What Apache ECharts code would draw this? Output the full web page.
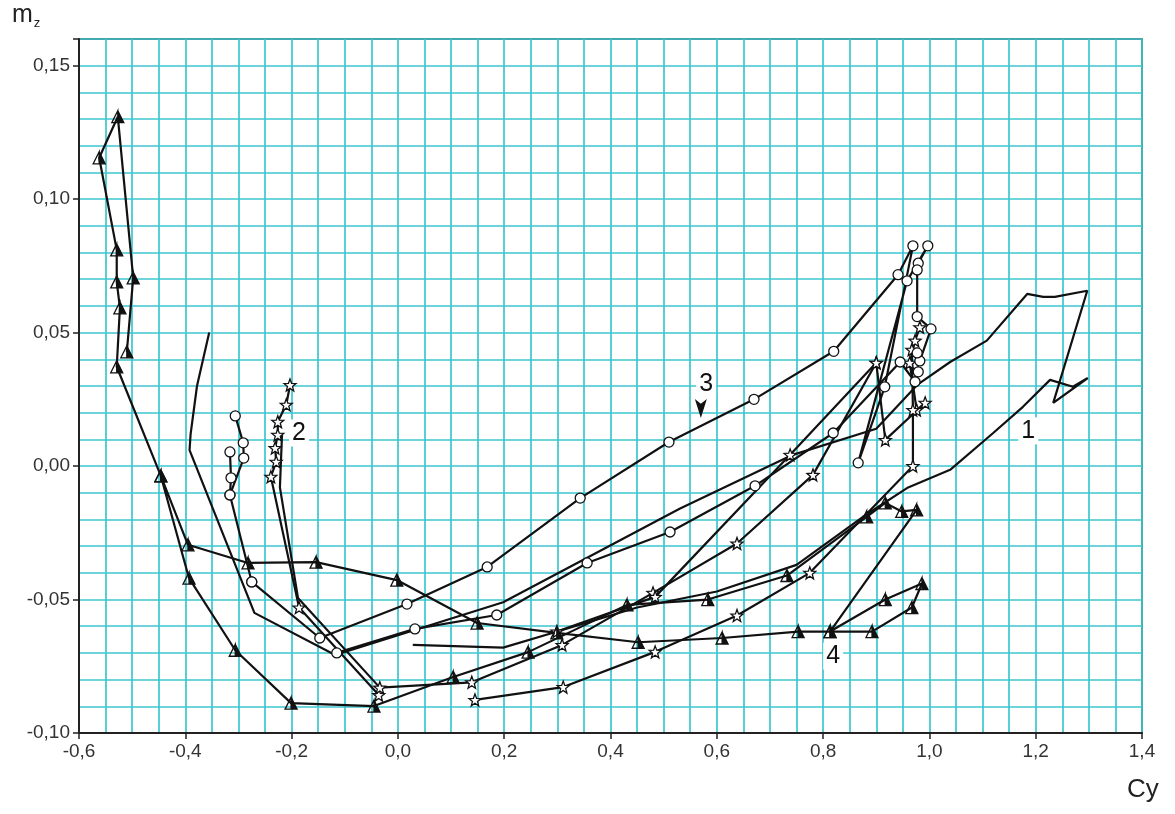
<!DOCTYPE html>
<html><head><meta charset="utf-8">
<script src="https://cdn.jsdelivr.net/npm/echarts@6/dist/echarts.min.js"></script>
<style>html,body{margin:0;padding:0;background:#fff}#c{width:1175px;height:814px}</style>
</head><body><div id="c"></div>
<script>
// ---- data (Cy, mz) ----
const curve1 = [[0.028,-0.067],[0.198,-0.068],[0.30,-0.062],[0.45,-0.053],[0.60,-0.047],[0.75,-0.037],[0.875,-0.019],[0.96,-0.008],[1.039,-0.0014],[1.12,0.0124],[1.176,0.0222],[1.227,0.0323],[1.27,0.0297],[1.298,0.033],[1.233,0.0237],[1.297,0.0657],[1.236,0.0634],[1.214,0.0634],[1.184,0.0645],[1.108,0.047],[1.039,0.039],[0.977,0.0304],[0.9,0.014],[0.74,0.004],[0.53,-0.016],[0.198,-0.051],[-0.118,-0.0708],[-0.27,-0.055],[-0.392,0.006],[-0.39,0.012],[-0.378,0.03],[-0.355,0.05]];
const curve2Down = [[-0.203,0.0304],[-0.21,0.023],[-0.226,0.0166],[-0.226,0.0117],[-0.231,0.0068],[-0.229,0.0016],[-0.239,-0.004],[-0.186,-0.053],[-0.036,-0.0858]];
const curve2Back = [[-0.034,-0.083],[-0.188,-0.0494],[-0.222,-0.008],[-0.218,0.012]];
const curve2R1 = [[-0.034,-0.083],[0.139,-0.081],[0.309,-0.067],[0.48,-0.0475],[0.638,-0.029],[0.781,-0.0033],[0.9,0.0387],[0.917,0.0098],[0.992,0.0237],[0.976,0.021],[0.963,0.0387],[0.973,0.047],[0.982,0.052]];
const curve2R2 = [[0.145,-0.0876],[0.311,-0.0828],[0.484,-0.0696],[0.638,-0.056],[0.775,-0.040],[0.969,0.0],[0.969,0.021],[0.967,0.0436]];
const curve2R3 = [[0.299,-0.062],[0.484,-0.049],[0.738,0.0042],[0.9,0.0387]];
const curve3Top = [[-0.306,0.0188],[-0.291,0.0087],[-0.29,0.003],[-0.316,-0.0108],[-0.275,-0.0434]];
const curve3Side = [[-0.316,0.0053],[-0.314,-0.0044],[-0.316,-0.0108]];
const curve3Up = [[-0.275,-0.0434],[-0.147,-0.0644],[0.017,-0.0517],[0.168,-0.0378],[0.343,-0.012],[0.51,0.009],[0.67,0.025],[0.82,0.043],[0.941,0.0717],[0.969,0.0825],[0.916,0.0297],[0.866,0.0012],[0.958,0.0694],[0.997,0.0825],[0.979,0.076]];
const curve3Down = [[0.977,0.0735],[0.977,0.056],[1.003,0.0514],[0.982,0.0394],[0.977,0.0424],[0.979,0.0353],[0.973,0.0316],[0.945,0.039],[0.819,0.0124],[0.672,-0.0074],[0.512,-0.0247],[0.356,-0.0363],[0.186,-0.0558],[0.032,-0.061],[-0.115,-0.07]];
const curve4 = [[-0.446,-0.0037],[-0.395,-0.0295],[-0.282,-0.0363],[-0.154,-0.036],[-0.002,-0.0427],[0.149,-0.0588],[0.299,-0.0625],[0.452,-0.066],[0.61,-0.0644],[0.753,-0.062],[0.813,-0.062],[0.892,-0.062],[0.967,-0.053],[0.986,-0.044],[0.917,-0.05],[0.813,-0.062],[0.976,-0.0164],[0.948,-0.017],[0.917,-0.0138],[0.882,-0.019],[0.732,-0.041],[0.583,-0.05],[0.431,-0.052],[0.245,-0.0697],[0.104,-0.079],[-0.045,-0.0899],[-0.201,-0.0888],[-0.306,-0.069],[-0.393,-0.042],[-0.446,-0.0037],[-0.529,0.0372],[-0.523,0.0593],[-0.529,0.069],[-0.529,0.081],[-0.562,0.1155],[-0.527,0.1309],[-0.498,0.0705],[-0.51,0.0428]];
const curveLabels = ['1','2','3','4'];
const curveLabelAt = [[1.186,0.0132],[-0.186,0.0124],[0.58,0.0308],[0.819,-0.0712]];
const arrowAt = [0.57,0.018];
const xRange = [-0.6, 1.4];
const yRange = [-0.10, 0.16];

// ---- styles ----
function starPath(){let p='';for(let i=0;i<10;i++){const r=i%2?4.2:10;const a=Math.PI/5*i-Math.PI/2;p+=(i?'L':'M')+(10+r*Math.cos(a)).toFixed(2)+','+(10+r*Math.sin(a)).toFixed(2);}return 'path://'+p+'Z';}
const STAR = starPath();
const TRI = 'path://M0,10L5,0L10,10Z M0,10L5,10L5,0Z';
function ser(data, symbol, size, fill){
  return {type:'line', data:data, xAxisIndex:0, yAxisIndex:0, symbol:symbol||'none', symbolSize:size||0,
    showAllSymbol:true, silent:true,
    lineStyle:{color:'#111', width:2.2}, itemStyle:{color:fill||'#fff', borderColor:'#111', borderWidth:1.3}, z:3};
}
const series = [
  ser(curve1,'none',0),
  ser(curve2Down,STAR,12), ser(curve2Back,'none',0), ser(curve2R1,STAR,12), ser(curve2R2,STAR,12), ser(curve2R3,STAR,12),
  ser(curve3Top,'circle',10), ser(curve3Side,'circle',10), ser(curve3Up,'circle',10), ser(curve3Down,'circle',10),
  ser(curve4,TRI,12,'#111')
];
series[8].markPoint = {silent:true, symbol:'arrow', symbolSize:[9,19], symbolRotate:180,
  itemStyle:{color:'#111'}, label:{show:false}, data:[{coord:arrowAt}]};
series.push({type:'scatter', silent:true, symbol:'circle', symbolSize:2, itemStyle:{color:'rgba(0,0,0,0)'}, z:6,
  data: curveLabels.map((t,i)=>({name:t, value:curveLabelAt[i]})),
  label:{show:true, position:'inside', formatter:'{b}', fontFamily:'Liberation Sans', fontSize:25, color:'#111',
    opacity:1, backgroundColor:'#fff', padding:[1,3]}});

const fmtX = v => (Math.abs(v*5-Math.round(v*5))<1e-6) ? v.toFixed(1).replace('.',',') : '';
const fmtY = v => (Math.abs(v*20-Math.round(v*20))<1e-6) ? v.toFixed(2).replace('.',',').replace('-0,00','0,00') : '';
const gridLine = {show:true, lineStyle:{color:'#3cc6cf', width:1.7}};
const font = {fontFamily:'Liberation Sans', fontSize:19, color:'#333'};

const chart = echarts.init(document.getElementById('c'), null, {renderer:'canvas'});
chart.setOption({
  animation:false,
  backgroundColor:'#fff',
  grid:{left:79, right:33, top:39, bottom:81, show:true, borderColor:'#222', borderWidth:1.5, backgroundColor:'#fff'},
  xAxis:[
    {type:'value', min:xRange[0], max:xRange[1], interval:0.2, position:'bottom',
     axisLine:{show:true, onZero:false, lineStyle:{color:'#222', width:2}},
     axisTick:{show:true, inside:false, length:6, lineStyle:{color:'#222', width:1.5}},
     axisLabel:Object.assign({formatter:fmtX, margin:9}, font), splitLine:{show:false}},
    {type:'value', min:xRange[0], max:xRange[1], interval:0.05, position:'top',
     axisLine:{show:false}, axisTick:{show:false}, axisLabel:{show:false}, splitLine:gridLine}
  ],
  yAxis:[
    {type:'value', min:yRange[0], max:yRange[1], interval:0.05, position:'left',
     axisLine:{show:true, onZero:false, lineStyle:{color:'#222', width:2}},
     axisTick:{show:true, inside:false, length:6, lineStyle:{color:'#222', width:1.5}},
     axisLabel:Object.assign({formatter:fmtY, margin:9}, font), splitLine:{show:false}},
    {type:'value', min:yRange[0], max:yRange[1], interval:0.01, position:'right',
     axisLine:{show:false}, axisTick:{show:false}, axisLabel:{show:false}, splitLine:gridLine}
  ],
  graphic:[
    {type:'text', left:12, top:3, style:{text:'{m|m}{z|z}', rich:{m:{fontFamily:'Liberation Sans', fontSize:25, fill:'#222'}, z:{fontFamily:'Liberation Sans', fontSize:13, fill:'#222', padding:[16,0,0,1]}}}},
    {type:'text', left:1127, top:777, style:{text:'Cy', fontFamily:'Liberation Sans', fontSize:26, fill:'#222'}}
  ],
  series:series
});
</script></body></html>
